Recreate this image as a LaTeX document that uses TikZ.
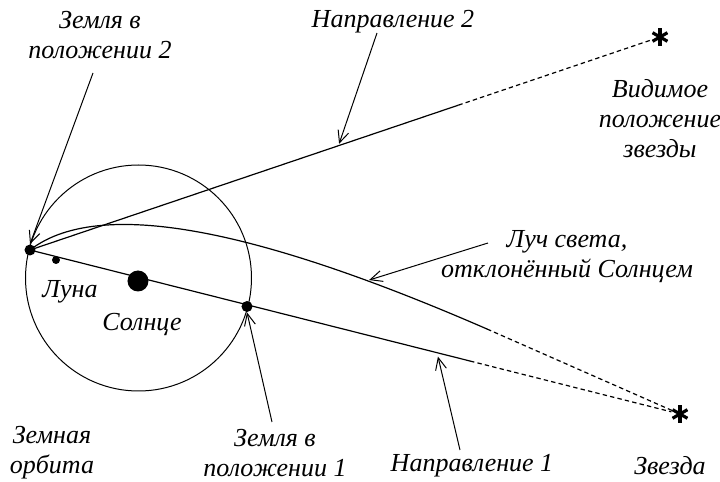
\documentclass[tikz,border=0pt]{standalone}
\usepackage{fontspec}
\setmainfont{Liberation Serif}
\usetikzlibrary{arrows.meta, positioning, calc}

\begin{document}
\begin{tikzpicture}[
        x=0.5pt, y=-0.5pt,
        ln/.style={line width=0.6pt, black},
        dsh/.style={line width=0.6pt, black, dash pattern=on 2.2pt off 1.6pt},
        ptr/.style={-{Straight Barb[length=6pt, width=5.5pt]}, line width=0.5pt, black},
        earth/.style={circle, fill=black, inner sep=0pt, minimum size=5.5pt},
        moon/.style={circle, fill=black, inner sep=0pt, minimum size=4pt},
        sun/.style={circle, fill=black, inner sep=0pt, minimum size=10.5pt},
        starmark/.style={circle, inner sep=0pt, minimum size=8.5pt,
            append after command={
                \pgfextra{\foreach \a in {90,30,150}
                    \draw[line width=1.6pt] (\tikzlastnode.center) ++(\a:4.3pt) -- ++(\a+180:8.6pt);}
            }},
        lbl/.style={font=\fontsize{13}{15}\selectfont\itshape, align=center, inner sep=1pt},
    ]
    \useasboundingbox (0,0) rectangle (720,482);
    % orbit of the Earth
    \draw[ln, line width=0.5pt] (138.5,278) circle[radius=56.5pt];
    \node[earth] (E2) at (30,250) {};
    \node[moon] (moon) at (56,260) {};
    \node[sun] (sun) at (138,281) {};
    \node[earth] (E1) at (247,306.5) {};
    \node[starmark] (S) at (680,414) {};
    \node[starmark] (Sapp) at (660,37) {};
    % directions to the star
    \draw[ln] (E2.center) -- coordinate[pos=0.72] (d2tip) ($(E2)!0.68!(Sapp)$) coordinate (d2end);
    \draw[dsh] (d2end) -- (Sapp);
    \draw[ln] (E2.center) -- coordinate[pos=0.925] (d1tip) ($(E2)!0.677!(S)$) coordinate (d1end);
    \draw[dsh] (d1end) -- (S);
    % deflected ray
    \draw[ln] (E2.center) .. controls (105,192) and (280,239) .. coordinate[pos=0.8] (rtip) (487,329) coordinate (rend);
    \draw[dsh] (rend) -- (S);
    % labels
    \node[lbl] (lE2) at (100,35) {Земля в\\положении 2};
    \node[lbl] (lN2) at (393,22) {Направление 2};
    \node[lbl] (lApp) at (660,119) {Видимое\\положение\\звезды};
    \node[lbl] (lRay) at (567,257) {Луч света,\\отклонённый Солнцем};
    \node[lbl] (lMoon) at (70,292) {Луна};
    \node[lbl] (lSun) at (142,324) {Солнце};
    \node[lbl] (lOrb) at (52,453) {Земная\\орбита};
    \node[lbl] (lE1) at (275,453) {Земля в\\положении 1};
    \node[lbl] (lN1) at (472,466) {Направление 1};
    \node[lbl] (lStar) at (670,466) {Звезда};
    % pointers
    \draw[ptr] ($(lE2.center)+(-7,38)$) -- (E2.north);
    \draw[ptr, shorten >=1pt] ($(lN2.center)+(-16,11)$) -- (d2tip);
    \draw[ptr, shorten >=1pt] ($(lRay.center)+(-79,-14)$) -- (rtip);
    \draw[ptr] ($(lE1.center)+(-3,-31)$) -- (E1.south);
    \draw[ptr, shorten >=2pt] ($(lN1.center)+(-12,-16)$) -- (d1tip);
\end{tikzpicture}
\end{document}
